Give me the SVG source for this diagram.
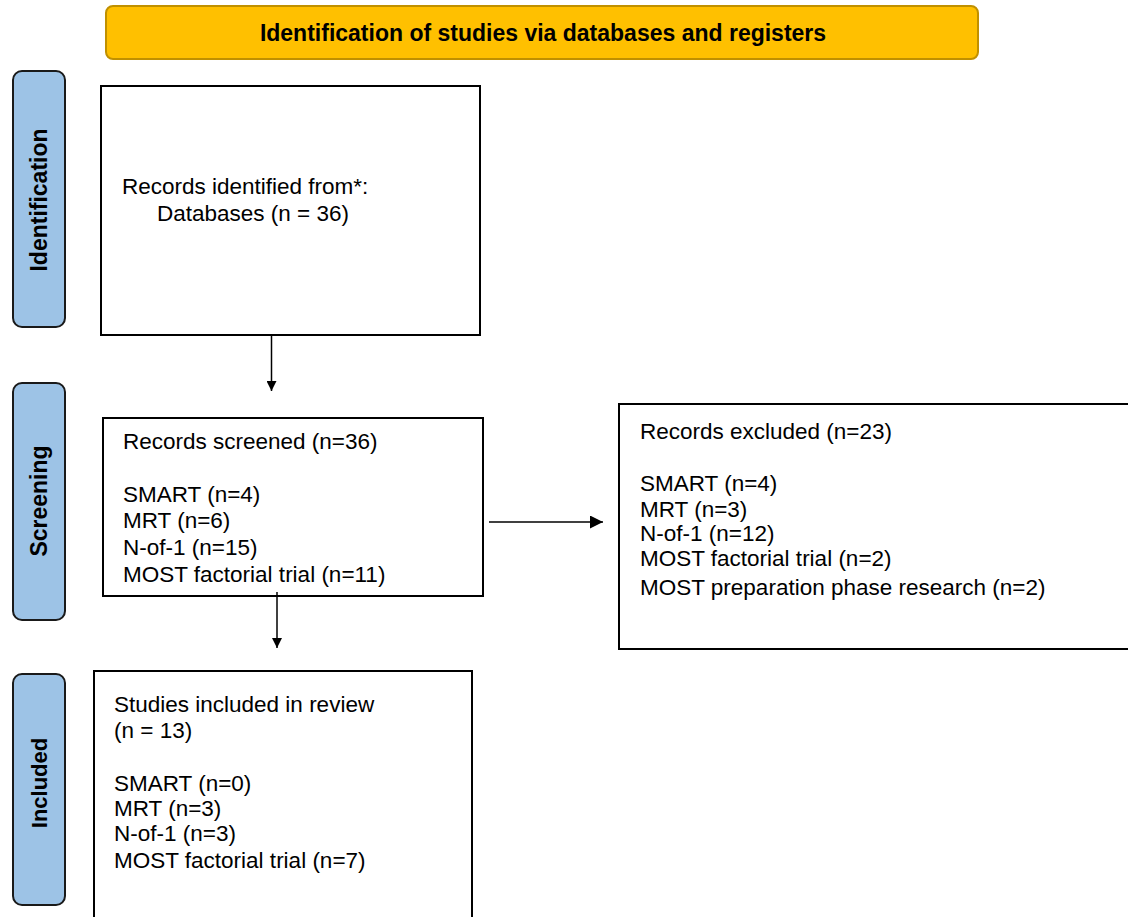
<svg xmlns="http://www.w3.org/2000/svg" width="1128" height="917" viewBox="0 0 1128 917">
  <style>
    .box { fill: #ffffff; stroke: #000000; stroke-width: 2; }
    .phase { fill: #9DC3E6; stroke: #1a1a1a; stroke-width: 2; }
    .head { fill: #FFC000; stroke: #C09000; stroke-width: 2; }
    .t { font-family: "Liberation Sans", Arial, sans-serif; font-size: 22.5px; fill: #000000; }
    .b { font-family: "Liberation Sans", Arial, sans-serif; font-weight: bold; fill: #000000; }
    .conn { stroke: #000000; stroke-width: 1.5; fill: none; }
  </style>
  <defs>
    <marker id="arr" viewBox="0 0 10 10" refX="10" refY="5" markerWidth="10" markerHeight="10" markerUnits="userSpaceOnUse" orient="auto">
      <path d="M0,0 L10,5 L0,10 Z" fill="#000000"/>
    </marker>
    <marker id="arrH" viewBox="0 0 10 10" refX="10" refY="5" markerWidth="14" markerHeight="13" markerUnits="userSpaceOnUse" orient="auto">
      <path d="M0,0 L10,5 L0,10 Z" fill="#000000"/>
    </marker>
  </defs>

  <g id="header">
    <rect class="head" x="106" y="6" width="872" height="53" rx="7" ry="7"/>
    <text class="b" x="543" y="41" font-size="23" text-anchor="middle">Identification of studies via databases and registers</text>
  </g>

  <g id="phase-identification">
    <rect class="phase" x="13" y="71" width="52" height="256" rx="9" ry="9"/>
    <text class="b" font-size="23" text-anchor="middle" transform="translate(47,200) rotate(-90)">Identification</text>
  </g>
  <g id="phase-screening">
    <rect class="phase" x="13" y="383" width="52" height="237" rx="9" ry="9"/>
    <text class="b" font-size="23" text-anchor="middle" transform="translate(47,501) rotate(-90)">Screening</text>
  </g>
  <g id="phase-included">
    <rect class="phase" x="13" y="674" width="52" height="231" rx="9" ry="9"/>
    <text class="b" font-size="22" text-anchor="middle" transform="translate(47,783) rotate(-90)">Included</text>
  </g>

  <g id="records-identified">
    <rect class="box" x="101" y="86" width="379" height="249"/>
    <text class="t" x="122" y="194">Records identified from*:</text>
    <text class="t" x="157" y="221">Databases (n = 36)</text>
  </g>

  <g id="records-screened">
    <rect class="box" x="103" y="418" width="380" height="178"/>
    <text class="t" x="123" y="449">Records screened (n=36)</text>
    <text class="t" x="123" y="502">SMART (n=4)</text>
    <text class="t" x="123" y="528">MRT (n=6)</text>
    <text class="t" x="123" y="554.5">N-of-1 (n=15)</text>
    <text class="t" x="123" y="581.5">MOST factorial trial (n=11)</text>
  </g>

  <g id="records-excluded">
    <rect class="box" x="619" y="404" width="515" height="245"/>
    <text class="t" x="640" y="439">Records excluded (n=23)</text>
    <text class="t" x="640" y="491">SMART (n=4)</text>
    <text class="t" x="640" y="517">MRT (n=3)</text>
    <text class="t" x="640" y="541">N-of-1 (n=12)</text>
    <text class="t" x="640" y="566">MOST factorial trial (n=2)</text>
    <text class="t" x="640" y="595">MOST preparation phase research (n=2)</text>
  </g>

  <g id="studies-included">
    <rect class="box" x="94" y="671" width="378" height="260"/>
    <text class="t" x="114" y="712">Studies included in review</text>
    <text class="t" x="114" y="738">(n = 13)</text>
    <text class="t" x="114" y="791">SMART (n=0)</text>
    <text class="t" x="114" y="816">MRT (n=3)</text>
    <text class="t" x="114" y="841">N-of-1 (n=3)</text>
    <text class="t" x="114" y="868">MOST factorial trial (n=7)</text>
  </g>

  <g id="connectors">
    <line class="conn" x1="271.5" y1="335" x2="271.5" y2="391" marker-end="url(#arr)"/>
    <line class="conn" x1="277" y1="592" x2="277" y2="648" marker-end="url(#arr)"/>
    <line class="conn" x1="489" y1="522" x2="603" y2="522" marker-end="url(#arrH)"/>
  </g>
</svg>
